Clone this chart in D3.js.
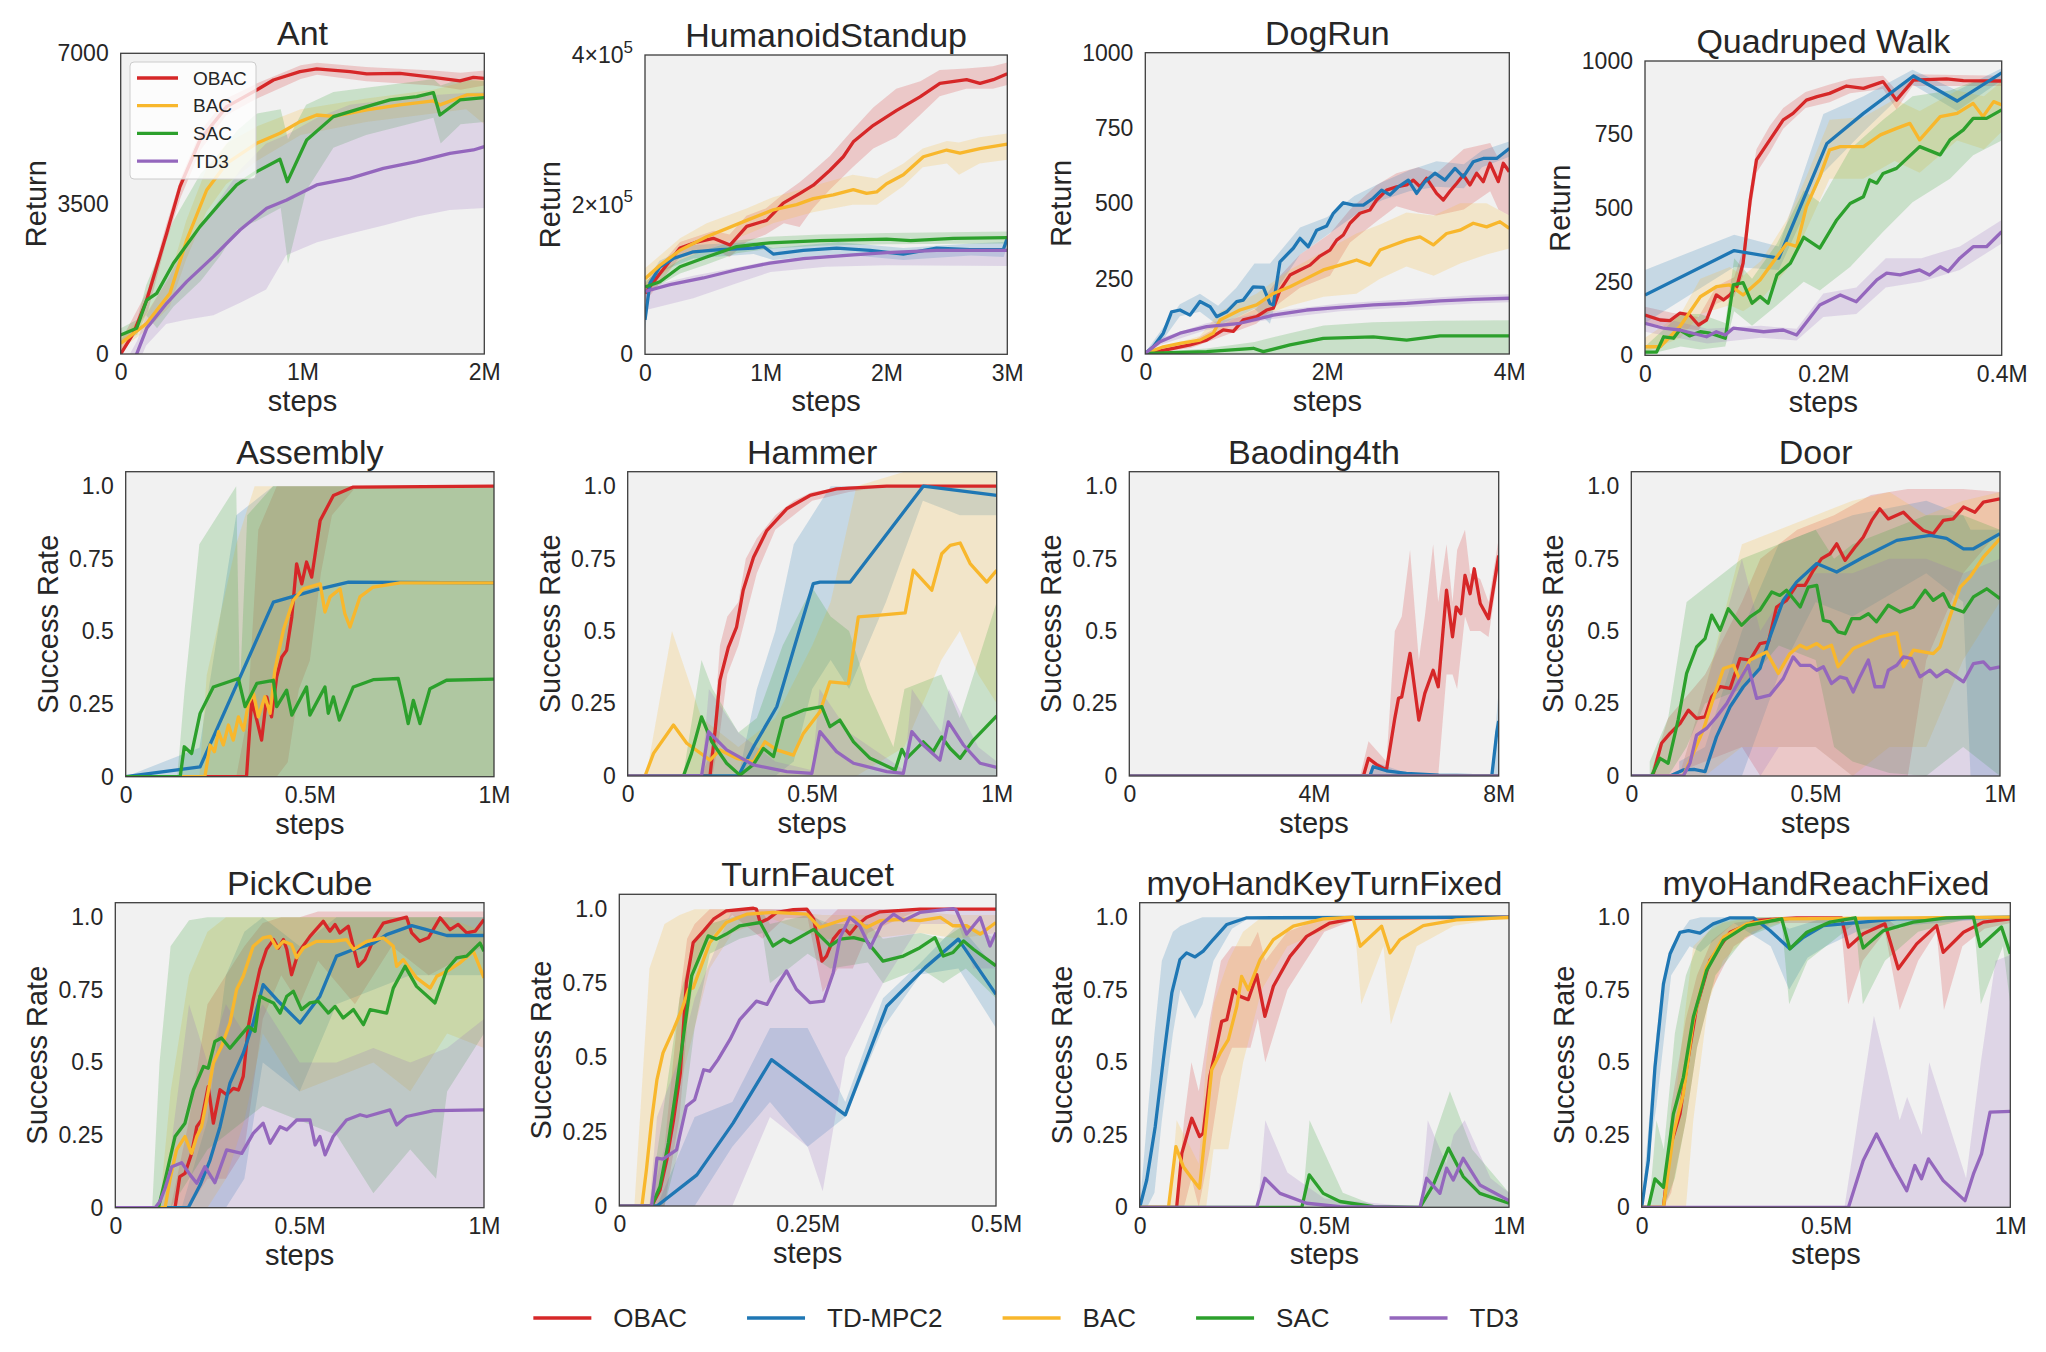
<!DOCTYPE html>
<html><head><meta charset="utf-8">
<script src="https://cdn.jsdelivr.net/npm/d3@7"></script>
<style>
body{margin:0;background:#fff}
svg{display:block}
text{font-family:"Liberation Sans",Arial,sans-serif;fill:#262626}
</style>
</head><body>
<svg id="chart" width="2046" height="1352"></svg>
<script>
const methods = ["OBAC","TD-MPC2","BAC","SAC","TD3"];
const colors = ["#d62728","#1f77b4","#f8b72c","#2ca02c","#9467bd"];

// ---------- tick arrays ----------
const returnTicksAnt = [0,3500,7000], returnLabelsAnt = ["0","3500","7000"];
const returnTicksHum = [0,200000,400000], returnLabelsHum = ["0","2×10^5","4×10^5"];
const returnTicks1000 = [0,250,500,750,1000], returnLabels1000 = ["0","250","500","750","1000"];
const successTicks = [0,0.25,0.5,0.75,1.0], successLabels = ["0","0.25","0.5","0.75","1.0"];
const xTicks2M = [0,1,2], xLabels2M = ["0","1M","2M"];
const xTicks3M = [0,1,2,3], xLabels3M = ["0","1M","2M","3M"];
const xTicks4M = [0,2,4], xLabels4M = ["0","2M","4M"];
const xTicks04M = [0,0.2,0.4], xLabels04M = ["0","0.2M","0.4M"];
const xTicks1M = [0,0.5,1], xLabels1M = ["0","0.5M","1M"];
const xTicks8M = [0,4,8], xLabels8M = ["0","4M","8M"];
const xTicks05M = [0,0.25,0.5], xLabels05M = ["0","0.25M","0.5M"];

// ---------- Ant (x in M steps) ----------
const ant_OBAC = [[0,0],[0.07,481],[0.143,1257],[0.198,2033],[0.253,2809],[0.326,3896],[0.436,4982],[0.583,5758],[0.748,6146],[0.84,6379],[0.986,6573],[1.078,6635],[1.261,6573],[1.353,6519],[1.536,6534],[1.72,6441],[1.866,6356],[1.94,6441],[2.0,6418]];
const ant_OBAC_band = [[0,0,300],[0.15,1000,1500],[0.25,2600,3000],[0.33,3650,4100],[0.44,4750,5200],[0.58,5550,5950],[0.75,5950,6300],[0.99,6400,6720],[1.08,6500,6780],[1.35,6350,6680],[1.72,6250,6600],[1.87,6150,6550],[2,6250,6600]];
const ant_BAC = [[0,248],[0.143,714],[0.271,1412],[0.363,2654],[0.473,3818],[0.583,4439],[0.748,4905],[0.876,5138],[0.986,5409],[1.078,5564],[1.17,5530],[1.353,5681],[1.536,5797],[1.72,5890],[1.756,5800],[1.903,6030],[2.0,6030]];
const ant_BAC_band = [[0,100,400],[0.14,550,950],[0.27,1100,1800],[0.36,2200,3100],[0.47,3300,4300],[0.58,3950,4900],[0.75,4500,5300],[0.99,5100,5700],[1.35,5400,5950],[1.72,5600,6150],[1.9,5700,6350],[2,5350,6400]];
const ant_SAC = [[0,442],[0.088,598],[0.143,1257],[0.198,1412],[0.29,2111],[0.436,2965],[0.546,3508],[0.638,3935],[0.748,4245],[0.876,4532],[0.917,4012],[1.023,4982],[1.17,5526],[1.353,5758],[1.481,5914],[1.628,5991],[1.72,6084],[1.756,5564],[1.866,5914],[2.0,5968]];
const ant_SAC_band = [[0,300,600],[0.09,450,800],[0.14,900,1600],[0.2,600,2200],[0.29,1100,3100],[0.44,1700,4200],[0.55,2300,4700],[0.64,2900,5200],[0.75,3100,5600],[0.88,3400,5700],[0.92,2100,5000],[1.02,3800,5800],[1.17,4800,6100],[1.35,5100,6200],[1.63,5400,6350],[1.72,5500,6400],[1.76,4900,6250],[1.87,5350,6400],[2,5400,6350]];
const ant_TD3 = [[0,-900],[0.088,0],[0.143,598],[0.253,1180],[0.363,1684],[0.51,2266],[0.656,2887],[0.803,3391],[0.913,3585],[1.078,3935],[1.261,4090],[1.445,4323],[1.628,4478],[1.811,4672],[1.94,4750],[2.0,4827]];
const ant_TD3_band = [[0.05,-600,0],[0.09,-300,300],[0.14,200,900],[0.25,700,1700],[0.36,800,2500],[0.51,900,3400],[0.66,1200,4300],[0.8,1500,4900],[0.91,2300,5100],[1.08,2600,5500],[1.26,2800,5800],[1.45,3000,5900],[1.63,3200,6000],[1.81,3350,6050],[2,3400,6100]];

// ---------- HumanoidStandup ----------
const hum_OBAC = [[0,81500],[0.124,108000],[0.29,142000],[0.428,150000],[0.566,155000],[0.704,146000],[0.842,171000],[1.007,179000],[1.145,202000],[1.283,215000],[1.394,226000],[1.532,246000],[1.642,264000],[1.725,284000],[1.891,306000],[2.084,326000],[2.277,344000],[2.442,362000],[2.663,367000],[2.774,362000],[2.884,367000],[3.0,375000]];
const hum_OBAC_band = [[0,70000,95000],[0.29,130000,150000],[0.57,140000,165000],[0.7,130000,160000],[0.84,150000,185000],[1.0,160000,195000],[1.15,175000,215000],[1.28,170000,230000],[1.39,195000,245000],[1.53,220000,265000],[1.72,250000,300000],[1.89,275000,330000],[2.08,290000,355000],[2.28,320000,365000],[2.44,345000,380000],[2.66,355000,382000],[2.88,355000,385000],[3.0,360000,390000]];
const hum_TDMPC2 = [[0,46000],[0.041,95000],[0.124,117000],[0.235,128000],[0.4,137000],[0.621,140000],[0.897,142000],[0.98,144000],[1.062,134000],[1.311,139000],[1.587,142000],[1.863,139000],[2.139,134000],[2.415,142000],[2.691,140000],[2.967,140000],[3.0,155000]];
const hum_TDMPC2_band = [[0,30000,60000],[0.04,85000,105000],[0.12,110000,125000],[0.4,128000,146000],[0.9,134000,150000],[1.06,126000,142000],[1.6,134000,150000],[2.14,126000,142000],[2.7,132000,148000],[2.97,130000,150000],[3.0,145000,160000]];
const hum_BAC = [[0,101000],[0.124,119000],[0.29,139000],[0.51,157000],[0.842,179000],[1.062,193000],[1.256,200000],[1.394,208000],[1.559,213000],[1.725,220000],[1.835,215000],[1.918,217000],[2.0,228000],[2.139,240000],[2.305,264000],[2.498,273000],[2.608,269000],[2.774,275000],[3.0,281000]];
const hum_BAC_band = [[0,90000,115000],[0.29,125000,155000],[0.51,140000,175000],[0.84,160000,195000],[1.06,175000,210000],[1.39,190000,225000],[1.72,200000,240000],[1.92,200000,235000],[2.14,225000,255000],[2.3,250000,275000],[2.5,255000,285000],[2.6,240000,283000],[2.77,255000,290000],[3.0,260000,295000]];
const hum_SAC = [[0,90000],[0.124,97000],[0.29,117000],[0.51,130000],[0.759,144000],[1.035,149000],[1.449,152000],[2.0,154000],[2.2,152000],[2.553,155000],[3.0,156000]];
const hum_SAC_band = [[0,82000,98000],[0.29,108000,126000],[0.51,120000,140000],[0.76,135000,152000],[1.03,141000,157000],[1.45,145000,160000],[2.0,147000,162000],[3.0,148000,164000]];
const hum_TD3 = [[0,84000],[0.207,93000],[0.483,102000],[0.759,113000],[1.035,122000],[1.311,128000],[1.725,133000],[2.0,136000],[2.415,139000],[3.0,139000]];
const hum_TD3_band = [[0,59000,90000],[0.4,75000,105000],[0.76,95000,116000],[1.04,110000,125000],[1.5,117000,132000],[2.0,119000,138000],[3.0,118000,142000]];

// ---------- DogRun ----------
const dog_OBAC = [[0,2],[0.125,8],[0.308,19],[0.491,30],[0.674,46],[0.857,80],[0.967,75],[1.077,113],[1.223,124],[1.333,146],[1.407,152],[1.48,212],[1.59,262],[1.7,279],[1.81,295],[1.919,325],[2.029,345],[2.103,378],[2.176,395],[2.249,434],[2.359,467],[2.469,478],[2.542,511],[2.652,544],[2.762,555],[2.872,561],[2.945,577],[3.019,555],[3.092,583],[3.201,533],[3.275,511],[3.348,540],[3.421,566],[3.495,594],[3.568,561],[3.641,600],[3.714,572],[3.788,633],[3.879,572],[3.934,633],[4.0,605]];
const dog_OBAC_band = [[0,0,5],[0.5,20,40],[0.86,60,100],[1.22,100,150],[1.48,170,260],[1.7,220,330],[2.03,260,400],[2.25,370,480],[2.54,440,560],[2.76,490,600],[3.0,470,620],[3.2,460,600],[3.5,480,680],[3.79,540,700],[3.88,480,650],[4.0,460,690]];
const dog_TDMPC2 = [[0,2],[0.088,24],[0.198,69],[0.289,140],[0.381,146],[0.491,129],[0.601,174],[0.711,157],[0.784,124],[0.894,140],[1.004,174],[1.077,179],[1.187,223],[1.297,221],[1.37,168],[1.407,163],[1.48,306],[1.626,351],[1.7,384],[1.791,356],[1.883,411],[1.993,425],[2.066,467],[2.176,502],[2.286,494],[2.396,494],[2.505,517],[2.597,544],[2.689,528],[2.78,555],[2.89,577],[2.982,533],[3.073,572],[3.183,600],[3.293,577],[3.403,616],[3.495,588],[3.604,638],[3.714,649],[3.861,649],[4.0,682]];
const dog_TDMPC2_band = [[0,0,5],[0.2,50,90],[0.38,125,165],[0.6,140,200],[0.8,95,160],[1.0,120,220],[1.2,150,300],[1.37,100,300],[1.48,230,340],[1.7,330,420],[2.0,395,455],[2.3,460,525],[2.6,510,570],[2.9,540,610],[3.2,555,640],[3.5,550,630],[3.7,620,675],[4.0,655,705]];
const dog_BAC = [[0,2],[0.198,24],[0.381,35],[0.601,46],[0.747,69],[0.821,113],[1.04,146],[1.223,163],[1.407,201],[1.59,223],[1.773,251],[1.956,279],[2.139,295],[2.322,312],[2.469,295],[2.579,345],[2.725,362],[2.872,378],[3.019,389],[3.165,362],[3.311,400],[3.458,411],[3.604,434],[3.751,422],[3.897,439],[4.0,417]];
const dog_BAC_band = [[0,0,5],[0.6,30,60],[0.82,80,140],[1.22,120,200],[1.59,160,280],[1.96,190,340],[2.32,200,400],[2.58,250,430],[2.87,290,470],[3.17,260,460],[3.46,300,500],[3.75,330,500],[4.0,350,460]];
const dog_SAC = [[0,2],[0.674,8],[1.187,19],[1.297,8],[1.59,30],[1.956,52],[2.505,57],[2.872,46],[3.238,60],[4.0,60]];
const dog_SAC_band = [[0,0,5],[0.67,0,18],[1.2,0,40],[1.6,0,70],[1.96,0,95],[2.5,0,105],[3.2,0,110],[4.0,0,112]];
const dog_TD3 = [[0,2],[0.161,41],[0.381,69],[0.674,91],[1.04,102],[1.407,129],[1.773,146],[2.139,155],[2.505,163],[2.872,168],[3.238,176],[3.604,181],[4.0,185]];
const dog_TD3_band = [[0,0,10],[0.16,30,52],[0.67,80,102],[1.4,116,142],[2.14,142,168],[2.87,155,182],[3.6,168,195],[4.0,172,198]];

// ---------- Quadruped Walk ----------
const quad_OBAC = [[0,137],[0.017,120],[0.028,118],[0.039,143],[0.05,137],[0.06,103],[0.069,120],[0.08,205],[0.088,188],[0.095,205],[0.103,233],[0.11,313],[0.118,528],[0.125,664],[0.14,732],[0.155,800],[0.166,822],[0.181,867],[0.193,879],[0.207,890],[0.226,915],[0.245,907],[0.267,930],[0.282,867],[0.301,935],[0.338,939],[0.357,933],[0.4,932]];
const quad_OBAC_band = [[0,110,165],[0.03,95,145],[0.06,85,130],[0.08,175,235],[0.1,200,265],[0.11,270,360],[0.118,480,570],[0.125,620,700],[0.14,690,780],[0.155,770,840],[0.18,840,895],[0.207,860,920],[0.23,890,940],[0.267,905,950],[0.282,835,900],[0.3,915,955],[0.4,915,950]];
const quad_TDMPC2 = [[0,205],[0.1,356],[0.15,330],[0.204,720],[0.245,822],[0.301,949],[0.35,864],[0.4,960]];
const quad_TDMPC2_band = [[0,110,290],[0.1,300,410],[0.15,290,370],[0.2,620,820],[0.245,760,880],[0.3,920,970],[0.35,830,900],[0.4,935,975]];
const quad_BAC = [[0,29],[0.017,29],[0.039,97],[0.062,199],[0.08,233],[0.095,239],[0.11,205],[0.129,256],[0.148,335],[0.159,380],[0.17,370],[0.181,505],[0.196,607],[0.207,698],[0.219,709],[0.245,709],[0.264,749],[0.282,771],[0.297,788],[0.308,732],[0.331,811],[0.35,822],[0.368,856],[0.379,811],[0.391,862],[0.4,851]];
const quad_BAC_band = [[0,10,60],[0.04,60,140],[0.062,140,260],[0.095,170,300],[0.11,150,270],[0.13,190,320],[0.159,290,460],[0.18,420,600],[0.207,600,800],[0.245,600,810],[0.28,660,870],[0.308,620,830],[0.35,730,900],[0.38,700,880],[0.4,760,930]];
const quad_SAC = [[0,11],[0.013,11],[0.021,63],[0.032,58],[0.039,86],[0.05,66],[0.062,80],[0.073,75],[0.09,58],[0.099,239],[0.11,247],[0.12,177],[0.129,200],[0.138,177],[0.148,273],[0.163,313],[0.178,401],[0.196,364],[0.215,460],[0.23,516],[0.245,539],[0.252,596],[0.26,585],[0.267,618],[0.282,635],[0.308,709],[0.331,681],[0.342,732],[0.357,766],[0.368,805],[0.383,805],[0.4,834]];
const quad_SAC_band = [[0,0,30],[0.04,30,140],[0.062,20,140],[0.09,30,110],[0.1,150,330],[0.12,100,260],[0.148,170,380],[0.178,250,560],[0.196,220,520],[0.23,300,700],[0.267,420,800],[0.3,520,880],[0.342,600,900],[0.368,680,930],[0.4,730,940]];
const quad_TD3 = [[0,109],[0.021,92],[0.039,86],[0.069,63],[0.08,80],[0.09,69],[0.099,92],[0.133,80],[0.155,86],[0.17,69],[0.196,171],[0.219,205],[0.237,182],[0.26,256],[0.271,279],[0.286,273],[0.308,290],[0.319,273],[0.331,301],[0.34,285],[0.353,330],[0.368,369],[0.383,369],[0.4,420]];
const quad_TD3_band = [[0,80,140],[0.07,40,90],[0.13,60,100],[0.17,50,90],[0.2,130,210],[0.237,140,230],[0.27,230,330],[0.31,250,330],[0.353,290,370],[0.4,380,460]];

// ---------- Assembly ----------
const asm_OBAC = [[0,0],[0.328,0],[0.342,0.263],[0.356,0.195],[0.369,0.126],[0.383,0.275],[0.396,0.206],[0.41,0.344],[0.424,0.412],[0.437,0.435],[0.451,0.55],[0.464,0.733],[0.478,0.664],[0.491,0.739],[0.505,0.687],[0.528,0.882],[0.564,0.968],[0.618,0.997],[1,1]];
const asm_OBAC_band = [[0,0,0],[0.3,0,0],[0.33,0,0.2],[0.36,0,0.85],[0.41,0,1.0],[0.44,0.05,1.0],[0.47,0.3,1.0],[0.5,0.4,1.0],[0.53,0.7,1.0],[0.56,0.9,1.0],[0.62,0.99,1.0],[1,1,1]];
const asm_TDMPC2 = [[0,0],[0.202,0.034],[0.401,0.601],[0.519,0.644],[0.605,0.67],[1,0.667]];
const asm_TDMPC2_band = [[0,0,0],[0.1,0,0.05],[0.2,0,0.1],[0.3,0,0.9],[0.4,0,1.0],[0.55,0,1.0],[1.0,0,1.0]];
const asm_BAC = [[0,0],[0.215,0],[0.229,0.109],[0.241,0.086],[0.252,0.155],[0.265,0.109],[0.279,0.178],[0.292,0.126],[0.306,0.206],[0.32,0.16],[0.333,0.252],[0.347,0.286],[0.36,0.206],[0.378,0.275],[0.392,0.218],[0.405,0.367],[0.428,0.504],[0.455,0.607],[0.482,0.647],[0.528,0.664],[0.541,0.567],[0.555,0.619],[0.582,0.647],[0.595,0.561],[0.609,0.515],[0.636,0.619],[0.672,0.653],[0.745,0.667],[1,0.667]];
const asm_BAC_band = [[0.2,0,0],[0.22,0,0.35],[0.3,0,0.8],[0.35,0,1.0],[0.5,0,1.0],[1.0,0,1.0]];
const asm_SAC = [[0,0],[0.148,0],[0.159,0.103],[0.179,0.08],[0.202,0.218],[0.238,0.309],[0.306,0.338],[0.324,0.241],[0.356,0.321],[0.401,0.332],[0.41,0.241],[0.437,0.298],[0.451,0.212],[0.491,0.309],[0.5,0.212],[0.541,0.309],[0.55,0.218],[0.564,0.275],[0.58,0.195],[0.618,0.309],[0.672,0.334],[0.74,0.338],[0.754,0.263],[0.767,0.183],[0.781,0.263],[0.799,0.183],[0.826,0.303],[0.871,0.332],[1,0.336]];
const asm_SAC_band = [[0.14,0,0],[0.16,0,0.3],[0.2,0,0.8],[0.3,0,1.0],[0.31,0,0.3],[0.33,0,0.9],[0.4,0,1.0],[1,0,1]];

// ---------- Hammer ----------
const ham_OBAC = [[0,0],[0.223,0],[0.237,0.158],[0.25,0.331],[0.273,0.445],[0.295,0.514],[0.313,0.641],[0.341,0.755],[0.377,0.847],[0.431,0.922],[0.494,0.968],[0.566,0.991],[0.702,1.0],[1,1]];
const ham_OBAC_band = [[0.2,0,0],[0.23,0,0.1],[0.25,0.15,0.45],[0.27,0.35,0.55],[0.3,0.45,0.6],[0.32,0.55,0.75],[0.35,0.7,0.82],[0.4,0.85,0.9],[0.45,0.9,0.95],[0.5,0.95,0.98],[0.6,0.98,1.0],[0.7,1,1],[1,1,1]];
const ham_TDMPC2 = [[0,0],[0.3,0],[0.341,0.101],[0.404,0.239],[0.449,0.434],[0.503,0.664],[0.521,0.669],[0.603,0.669],[0.801,1.0],[1,0.968]];
const ham_TDMPC2_band = [[0.3,0,0],[0.35,0,0.3],[0.4,0,0.5],[0.45,0.05,0.8],[0.5,0.3,0.9],[0.55,0.4,1.0],[0.6,0.3,1.0],[0.7,0.6,1.0],[0.8,0.95,1.0],[0.9,0.9,1.0],[1.0,0.9,1.0]];
const ham_BAC = [[0,0],[0.047,0],[0.07,0.078],[0.124,0.176],[0.16,0.113],[0.223,0.055],[0.25,0.09],[0.295,0.061],[0.341,0.049],[0.372,0.118],[0.404,0.09],[0.449,0.072],[0.476,0.147],[0.521,0.222],[0.548,0.325],[0.598,0.319],[0.625,0.549],[0.684,0.555],[0.752,0.563],[0.774,0.71],[0.824,0.641],[0.851,0.767],[0.874,0.796],[0.901,0.804],[0.928,0.733],[0.973,0.669],[1,0.71]];
const ham_BAC_band = [[0.05,0,0],[0.12,0,0.5],[0.2,0,0.2],[0.3,0,0.1],[0.4,0,0.2],[0.5,0,0.45],[0.55,0,0.6],[0.62,0,1.0],[0.75,0.1,1.05],[0.85,0.4,1.05],[0.9,0.5,1.05],[0.95,0.35,1.05],[1.0,0.25,1.05]];
const ham_SAC = [[0,0],[0.151,0],[0.173,0.078],[0.2,0.204],[0.228,0.118],[0.268,0.044],[0.304,0.003],[0.341,0.04],[0.368,0.095],[0.395,0.067],[0.422,0.199],[0.476,0.227],[0.526,0.239],[0.548,0.17],[0.575,0.193],[0.612,0.118],[0.657,0.061],[0.725,0.021],[0.743,0.092],[0.756,0.061],[0.801,0.118],[0.828,0.084],[0.851,0.135],[0.874,0.095],[0.901,0.061],[0.937,0.124],[1,0.207]];
const ham_SAC_band = [[0.15,0,0],[0.2,0,0.4],[0.23,0,0.3],[0.3,0,0.15],[0.35,0,0.2],[0.42,0,0.45],[0.5,0,0.65],[0.55,0,0.55],[0.6,0,0.5],[0.65,0,0.3],[0.72,0,0.1],[0.75,0,0.3],[0.85,0,0.35],[0.9,0,0.2],[1.0,0,0.6]];
const ham_TD3 = [[0,0],[0.2,0],[0.219,0.153],[0.268,0.09],[0.341,0.038],[0.431,0.015],[0.499,0.009],[0.521,0.153],[0.566,0.084],[0.612,0.044],[0.702,0.015],[0.747,0.009],[0.77,0.153],[0.801,0.107],[0.846,0.055],[0.869,0.187],[0.91,0.107],[0.955,0.044],[1,0.03]];
const ham_TD3_band = [[0.2,0,0],[0.22,0,0.3],[0.3,0,0.15],[0.4,0,0.05],[0.5,0,0.02],[0.52,0,0.3],[0.6,0,0.15],[0.75,0,0.02],[0.77,0,0.3],[0.85,0,0.15],[0.87,0,0.3],[0.95,0,0.1],[1.0,0,0.05]];

// ---------- Baoding4th ----------
const bao_OBAC = [[0,0],[5.07,0],[5.18,0.061],[5.35,0.04],[5.57,0.021],[5.75,0.199],[5.83,0.268],[5.9,0.273],[6.08,0.423],[6.27,0.193],[6.4,0.285],[6.58,0.365],[6.69,0.308],[6.87,0.641],[7.0,0.48],[7.08,0.583],[7.18,0.56],[7.27,0.692],[7.38,0.629],[7.47,0.715],[7.6,0.595],[7.78,0.543],[8,0.761]];
const bao_OBAC_band = [[5.0,0,0],[5.18,0,0.12],[5.57,0,0.05],[5.75,0,0.5],[5.9,0,0.55],[6.08,0,0.78],[6.27,0,0.4],[6.4,0,0.55],[6.58,0,0.8],[6.69,0,0.6],[6.87,0.35,0.8],[7.0,0.35,0.6],[7.1,0.3,0.78],[7.27,0.55,0.85],[7.38,0.5,0.7],[7.6,0.5,0.68],[7.78,0.48,0.6],[8.0,0.72,0.82]];
const bao_TDMPC2 = [[0,0],[5.21,0],[5.28,0.032],[5.57,0.018],[6.0,0.009],[6.7,0.003],[7.85,0],[7.96,0.153],[8,0.19]];
const bao_TDMPC2_band = [[5.2,0,0],[5.28,0,0.05],[6,0,0.01],[7.85,0,0],[8,0,0.3]];
const bao_BAC = [[0,0],[8,0]];
const bao_SAC = [[0,0],[8,0]];
const bao_TD3 = [[0,0],[8,0]];

// ---------- Door ----------
const door_OBAC = [[0,0],[0.058,0],[0.082,0.113],[0.105,0.147],[0.132,0.181],[0.155,0.227],[0.177,0.199],[0.2,0.204],[0.218,0.273],[0.241,0.308],[0.268,0.302],[0.295,0.405],[0.322,0.4],[0.349,0.457],[0.372,0.463],[0.394,0.583],[0.421,0.606],[0.448,0.658],[0.471,0.658],[0.494,0.71],[0.516,0.75],[0.539,0.767],[0.557,0.801],[0.58,0.744],[0.607,0.79],[0.629,0.824],[0.652,0.882],[0.674,0.922],[0.697,0.887],[0.738,0.91],[0.765,0.876],[0.792,0.847],[0.819,0.836],[0.846,0.882],[0.873,0.887],[0.901,0.928],[0.932,0.91],[0.955,0.945],[1,0.956]];
const door_OBAC_band = [[0.05,0,0],[0.1,0,0.2],[0.2,0.05,0.35],[0.3,0.1,0.6],[0.35,0,0.75],[0.45,0,0.85],[0.55,0,0.9],[0.65,0,0.97],[0.75,0,0.99],[0.8,0.4,0.99],[0.9,0.7,0.99],[1.0,0.85,0.98]];
const door_TDMPC2 = [[0,0],[0.105,0],[0.141,0.021],[0.17,0.023],[0.2,0.015],[0.231,0.135],[0.268,0.239],[0.304,0.308],[0.349,0.371],[0.376,0.48],[0.412,0.606],[0.448,0.669],[0.503,0.733],[0.557,0.704],[0.629,0.755],[0.72,0.813],[0.81,0.83],[0.855,0.82],[0.901,0.784],[0.928,0.784],[1,0.836]];
const door_TDMPC2_band = [[0.13,0,0.05],[0.2,0,0.1],[0.3,0,0.5],[0.4,0.35,0.8],[0.5,0.6,0.85],[0.6,0.55,0.9],[0.8,0.7,0.95],[0.9,0.6,0.9],[0.92,0,0.85],[1.0,0,0.85]];
const door_BAC = [[0,0],[0.141,0],[0.168,0.078],[0.195,0.158],[0.218,0.25],[0.25,0.371],[0.277,0.382],[0.295,0.331],[0.322,0.4],[0.367,0.428],[0.399,0.354],[0.43,0.422],[0.458,0.451],[0.476,0.44],[0.503,0.457],[0.521,0.44],[0.543,0.451],[0.561,0.377],[0.602,0.44],[0.674,0.48],[0.72,0.494],[0.738,0.377],[0.765,0.434],[0.819,0.422],[0.837,0.445],[0.864,0.549],[0.892,0.652],[0.919,0.687],[0.955,0.755],[1,0.819]];
const door_BAC_band = [[0.13,0,0],[0.2,0,0.3],[0.3,0.1,0.8],[0.4,0.1,0.85],[0.5,0.1,0.9],[0.6,0,0.95],[0.7,0.1,0.98],[0.8,0.1,0.9],[0.9,0.4,0.95],[1.0,0.6,0.98]];
const door_SAC = [[0,0],[0.055,0],[0.078,0.061],[0.1,0.044],[0.127,0.193],[0.15,0.354],[0.177,0.445],[0.2,0.474],[0.218,0.555],[0.241,0.503],[0.263,0.577],[0.299,0.52],[0.322,0.549],[0.349,0.572],[0.381,0.635],[0.403,0.623],[0.421,0.641],[0.458,0.583],[0.48,0.652],[0.503,0.658],[0.521,0.537],[0.539,0.532],[0.561,0.497],[0.58,0.491],[0.598,0.543],[0.62,0.543],[0.643,0.56],[0.665,0.532],[0.697,0.589],[0.729,0.566],[0.765,0.583],[0.797,0.641],[0.819,0.606],[0.846,0.629],[0.864,0.583],[0.901,0.566],[0.928,0.618],[0.964,0.646],[1,0.612]];
const door_SAC_band = [[0.05,0,0.05],[0.1,0,0.2],[0.15,0.1,0.6],[0.2,0.25,0.65],[0.3,0.3,0.75],[0.4,0.45,0.8],[0.5,0.4,0.85],[0.55,0.1,0.75],[0.6,0.05,0.8],[0.7,0.01,0.85],[0.8,0,0.9],[0.9,0.1,0.9],[1.0,0,0.85]];
const door_TD3 = [[0,0],[0.141,0],[0.159,0.044],[0.177,0.141],[0.204,0.164],[0.231,0.204],[0.259,0.25],[0.281,0.302],[0.317,0.382],[0.34,0.268],[0.376,0.279],[0.412,0.336],[0.439,0.411],[0.458,0.382],[0.485,0.382],[0.503,0.365],[0.521,0.377],[0.543,0.319],[0.566,0.342],[0.584,0.336],[0.602,0.29],[0.62,0.342],[0.643,0.4],[0.661,0.308],[0.684,0.308],[0.697,0.365],[0.72,0.382],[0.738,0.411],[0.76,0.405],[0.783,0.342],[0.81,0.365],[0.828,0.342],[0.855,0.365],[0.901,0.325],[0.928,0.388],[0.955,0.394],[0.973,0.37],[1,0.377]];
const door_TD3_band = [[0.13,0,0],[0.2,0,0.3],[0.3,0,0.75],[0.35,0,0.5],[0.4,0.1,0.6],[0.5,0.1,0.7],[0.6,0,0.7],[0.7,0,0.75],[0.8,0,0.75],[0.9,0,0.7],[1.0,0,0.75]];

// ---------- PickCube ----------
const pick_OBAC = [[0,0],[0.162,0],[0.175,0.107],[0.189,0.118],[0.207,0.187],[0.221,0.279],[0.234,0.302],[0.252,0.417],[0.266,0.291],[0.284,0.406],[0.302,0.389],[0.32,0.411],[0.334,0.405],[0.347,0.452],[0.361,0.624],[0.374,0.716],[0.392,0.82],[0.41,0.889],[0.429,0.923],[0.442,0.894],[0.456,0.923],[0.465,0.89],[0.478,0.802],[0.496,0.877],[0.528,0.934],[0.564,0.986],[0.582,0.952],[0.596,0.975],[0.609,0.946],[0.632,0.969],[0.659,0.831],[0.677,0.854],[0.704,0.934],[0.727,0.98],[0.79,1.0],[0.804,0.946],[0.826,0.917],[0.849,0.929],[0.881,0.998],[0.908,0.957],[0.93,0.975],[0.953,0.946],[0.976,0.952],[1,0.992]];
const pick_OBAC_band = [[0.15,0,0],[0.2,0,0.3],[0.25,0.1,0.7],[0.3,0.1,0.8],[0.35,0.2,0.9],[0.4,0.65,0.98],[0.45,0.8,1.0],[0.5,0.7,1.0],[0.55,0.85,1.02],[0.65,0.7,1.02],[0.75,0.9,1.02],[0.85,0.8,1.02],[1.0,0.9,1.02]];
const pick_TDMPC2 = [[0,0],[0.198,0],[0.23,0.078],[0.257,0.164],[0.284,0.279],[0.311,0.429],[0.347,0.532],[0.374,0.636],[0.401,0.768],[0.438,0.716],[0.501,0.636],[0.555,0.728],[0.6,0.866],[0.646,0.889],[0.7,0.911],[0.736,0.94],[0.804,0.971],[0.844,0.957],[0.899,0.937],[1,0.937]];
const pick_TDMPC2_band = [[0.18,0,0],[0.25,0,0.3],[0.3,0,0.8],[0.35,0.1,0.95],[0.4,0.5,1.0],[0.5,0.4,0.9],[0.6,0.7,1.0],[0.7,0.75,1.0],[0.8,0.8,1.0],[1.0,0.8,1.0]];
const pick_BAC = [[0,0],[0.135,0],[0.148,0.095],[0.166,0.199],[0.189,0.245],[0.207,0.187],[0.221,0.245],[0.234,0.279],[0.248,0.371],[0.266,0.498],[0.288,0.555],[0.311,0.636],[0.329,0.751],[0.347,0.797],[0.374,0.9],[0.401,0.929],[0.42,0.934],[0.438,0.894],[0.456,0.917],[0.478,0.906],[0.492,0.86],[0.51,0.894],[0.546,0.917],[0.591,0.917],[0.627,0.923],[0.646,0.889],[0.682,0.917],[0.727,0.929],[0.754,0.9],[0.763,0.831],[0.781,0.854],[0.817,0.791],[0.854,0.756],[0.872,0.797],[0.899,0.814],[0.935,0.843],[0.971,0.883],[1,0.791]];
const pick_BAC_band = [[0.12,0,0],[0.15,0,0.4],[0.2,0,0.8],[0.25,0,0.95],[0.3,0.1,1.0],[0.35,0.3,1.0],[0.4,0.6,1.0],[0.5,0.4,1.0],[0.7,0.5,1.0],[0.8,0.4,1.0],[0.9,0.6,1.0],[1.0,0.55,0.95]];
const pick_SAC = [[0,0],[0.117,0],[0.135,0.095],[0.162,0.245],[0.189,0.291],[0.212,0.406],[0.239,0.486],[0.252,0.48],[0.27,0.572],[0.288,0.584],[0.311,0.549],[0.338,0.59],[0.361,0.624],[0.379,0.607],[0.392,0.728],[0.41,0.716],[0.429,0.705],[0.447,0.67],[0.465,0.728],[0.483,0.745],[0.505,0.682],[0.528,0.705],[0.551,0.71],[0.578,0.67],[0.596,0.693],[0.618,0.653],[0.646,0.682],[0.673,0.63],[0.691,0.682],[0.736,0.67],[0.754,0.756],[0.786,0.831],[0.817,0.762],[0.867,0.705],[0.899,0.82],[0.926,0.86],[0.953,0.866],[0.989,0.911],[1,0.883]];
const pick_SAC_band = [[0.1,0,0],[0.12,0,0.5],[0.15,0,0.9],[0.2,0.1,0.99],[0.25,0.2,1.0],[0.35,0.3,1.0],[0.4,0.35,1.0],[0.5,0.3,1.0],[0.6,0.25,1.0],[0.7,0.05,1.0],[0.8,0.2,1.0],[0.87,0.1,1.0],[0.9,0.4,1.0],[1.0,0.6,1.0]];
const pick_TD3 = [[0,0],[0.108,0],[0.121,0.021],[0.135,0.067],[0.153,0.141],[0.18,0.155],[0.203,0.113],[0.221,0.084],[0.243,0.141],[0.27,0.086],[0.302,0.199],[0.343,0.187],[0.374,0.256],[0.401,0.291],[0.42,0.222],[0.447,0.279],[0.465,0.268],[0.492,0.302],[0.528,0.302],[0.542,0.216],[0.555,0.245],[0.569,0.182],[0.591,0.245],[0.627,0.302],[0.664,0.32],[0.682,0.314],[0.745,0.337],[0.763,0.285],[0.79,0.314],[0.863,0.334],[1,0.337]];
const pick_TD3_band = [[0.12,0,0],[0.15,0,0.2],[0.2,0,0.7],[0.25,0,0.5],[0.3,0,0.7],[0.35,0,0.6],[0.4,0,0.7],[0.5,0,0.5],[0.6,0,0.5],[0.7,0,0.55],[0.8,0,0.5],[0.9,0,0.55],[1.0,0,0.65]];

// ---------- TurnFaucet ----------
const tf_OBAC = [[0,0],[0.043,0],[0.054,0.054],[0.063,0.155],[0.072,0.291],[0.081,0.448],[0.089,0.752],[0.098,0.887],[0.112,0.927],[0.125,0.966],[0.142,0.994],[0.178,1.003],[0.182,1.0],[0.187,0.955],[0.198,0.968],[0.209,0.989],[0.231,0.998],[0.249,1.0],[0.258,0.966],[0.269,0.825],[0.275,0.842],[0.284,0.899],[0.293,0.927],[0.3,0.932],[0.306,0.916],[0.315,0.944],[0.328,0.972],[0.346,0.991],[0.399,1.0],[0.5,1.0]];
const tf_OBAC_band = [[0.04,0,0],[0.06,0,0.2],[0.08,0.3,0.7],[0.09,0.6,0.9],[0.1,0.8,0.95],[0.12,0.9,1.0],[0.15,0.98,1.0],[0.19,0.9,1.0],[0.22,0.97,1.0],[0.25,0.97,1.0],[0.27,0.72,0.95],[0.29,0.8,1.0],[0.31,0.8,1.0],[0.33,0.92,1.0],[0.4,1,1],[0.5,1,1]];
const tf_TDMPC2 = [[0,0],[0.05,0],[0.103,0.105],[0.151,0.279],[0.202,0.493],[0.3,0.307],[0.355,0.673],[0.406,0.803],[0.45,0.899],[0.5,0.713]];
const tf_TDMPC2_band = [[0.05,0,0],[0.1,0,0.3],[0.15,0.2,0.35],[0.2,0.35,0.6],[0.25,0.2,0.6],[0.3,0.3,0.35],[0.35,0.6,0.7],[0.4,0.78,0.82],[0.45,0.8,0.95],[0.5,0.6,0.8]];
const tf_BAC = [[0,0],[0.03,0],[0.036,0.122],[0.043,0.291],[0.05,0.426],[0.058,0.516],[0.072,0.595],[0.083,0.662],[0.092,0.73],[0.098,0.735],[0.107,0.797],[0.12,0.887],[0.142,0.955],[0.169,0.983],[0.204,0.989],[0.249,0.983],[0.266,0.938],[0.293,0.961],[0.311,0.972],[0.328,0.938],[0.346,0.961],[0.377,0.966],[0.399,0.961],[0.426,0.972],[0.443,0.944],[0.461,0.944],[0.479,0.916],[0.5,0.955]];
const tf_BAC_band = [[0.02,0,0],[0.03,0,0.4],[0.04,0,0.8],[0.06,0.2,0.95],[0.08,0.4,0.98],[0.1,0.6,1.0],[0.12,0.8,1.0],[0.15,0.92,1.0],[0.2,0.97,1.0],[0.27,0.9,0.98],[0.33,0.9,0.98],[0.4,0.92,0.99],[0.45,0.9,0.98],[0.5,0.92,0.98]];
const tf_SAC = [[0,0],[0.043,0],[0.054,0.065],[0.065,0.212],[0.076,0.403],[0.087,0.606],[0.096,0.775],[0.107,0.842],[0.118,0.91],[0.129,0.899],[0.142,0.916],[0.16,0.944],[0.187,0.955],[0.204,0.876],[0.218,0.899],[0.227,0.887],[0.258,0.932],[0.28,0.876],[0.293,0.899],[0.311,0.904],[0.328,0.893],[0.35,0.825],[0.377,0.842],[0.399,0.87],[0.419,0.904],[0.43,0.842],[0.443,0.854],[0.457,0.893],[0.47,0.865],[0.5,0.809]];
const tf_SAC_band = [[0.04,0,0],[0.06,0,0.35],[0.08,0.2,0.7],[0.1,0.6,0.9],[0.12,0.85,0.95],[0.16,0.9,0.98],[0.19,0.92,0.99],[0.2,0.75,0.95],[0.25,0.85,0.98],[0.28,0.8,0.95],[0.33,0.82,0.95],[0.35,0.75,0.9],[0.4,0.8,0.92],[0.43,0.75,0.9],[0.46,0.8,0.95],[0.5,0.7,0.9]];
const tf_TD3 = [[0,0],[0.043,0],[0.05,0.161],[0.058,0.158],[0.076,0.189],[0.089,0.336],[0.1,0.358],[0.112,0.459],[0.12,0.454],[0.131,0.493],[0.147,0.561],[0.16,0.628],[0.182,0.69],[0.196,0.679],[0.209,0.741],[0.222,0.792],[0.235,0.73],[0.253,0.685],[0.271,0.69],[0.284,0.786],[0.293,0.904],[0.306,0.972],[0.319,0.944],[0.333,0.87],[0.348,0.949],[0.364,0.983],[0.377,0.961],[0.399,0.989],[0.443,1.002],[0.447,0.998],[0.461,0.916],[0.479,0.972],[0.492,0.876],[0.5,0.921]];
const tf_TD3_band = [[0.04,0,0],[0.05,0,0.3],[0.08,0,0.5],[0.1,0,0.7],[0.15,0,1.0],[0.2,0.3,1.0],[0.25,0.2,1.0],[0.27,0.05,1.0],[0.3,0.5,1.0],[0.35,0.75,1.0],[0.4,0.95,1.0],[0.45,0.95,1.0],[0.47,0.8,1.0],[0.5,0.8,1.0]];

// ---------- myoHandKeyTurnFixed ----------
const key_OBAC = [[0,0],[0.1,0],[0.114,0.186],[0.141,0.307],[0.162,0.244],[0.172,0.255],[0.19,0.451],[0.208,0.555],[0.222,0.641],[0.236,0.647],[0.254,0.75],[0.272,0.727],[0.294,0.716],[0.317,0.802],[0.339,0.658],[0.362,0.762],[0.407,0.865],[0.452,0.934],[0.515,0.98],[0.588,0.997],[1,1]];
const key_OBAC_band = [[0.1,0,0],[0.12,0,0.3],[0.14,0.1,0.5],[0.16,0,0.4],[0.19,0.2,0.65],[0.22,0.45,0.85],[0.25,0.55,0.9],[0.3,0.55,0.9],[0.32,0.65,0.95],[0.34,0.5,0.85],[0.4,0.75,0.95],[0.5,0.95,1],[0.6,1,1],[1,1,1]];
const key_TDMPC2 = [[0,0],[0.019,0.094],[0.042,0.278],[0.064,0.509],[0.087,0.739],[0.109,0.854],[0.127,0.877],[0.15,0.863],[0.172,0.883],[0.199,0.923],[0.236,0.975],[0.29,0.998],[1,1]];
const key_TDMPC2_band = [[0,0,0],[0.02,0,0.3],[0.04,0.05,0.6],[0.06,0.3,0.85],[0.09,0.6,0.95],[0.11,0.75,0.97],[0.15,0.65,0.99],[0.17,0.7,1.0],[0.2,0.85,1.0],[0.25,0.96,1.0],[0.3,1,1],[1,1,1]];
const key_BAC = [[0,0],[0.078,0],[0.098,0.209],[0.118,0.14],[0.141,0.1],[0.162,0.066],[0.181,0.301],[0.195,0.474],[0.218,0.532],[0.24,0.578],[0.263,0.693],[0.276,0.796],[0.294,0.75],[0.326,0.854],[0.362,0.923],[0.416,0.969],[0.497,0.994],[0.577,1.0],[0.597,0.9],[0.655,0.969],[0.678,0.877],[0.705,0.923],[0.768,0.971],[0.858,0.991],[1,0.999]];
const key_BAC_band = [[0.08,0,0],[0.1,0,0.3],[0.16,0,0.15],[0.18,0,0.5],[0.2,0.2,0.7],[0.24,0.2,0.85],[0.28,0.5,0.95],[0.33,0.75,1.0],[0.4,0.9,1.0],[0.58,1,1],[0.6,0.7,1.0],[0.66,0.9,1.0],[0.68,0.63,1.0],[0.75,0.9,1.0],[0.85,0.97,1.0],[1,1,1]];
const key_SAC = [[0,0],[0.439,0],[0.459,0.112],[0.497,0.048],[0.542,0.02],[0.633,0.002],[0.759,0],[0.795,0.077],[0.836,0.204],[0.876,0.106],[0.921,0.048],[1,0.014]];
const key_SAC_band = [[0.44,0,0],[0.46,0,0.3],[0.55,0,0.05],[0.65,0,0],[0.76,0,0],[0.8,0,0.25],[0.84,0,0.4],[0.9,0,0.2],[1.0,0,0.05]];
const key_TD3 = [[0,0],[0.317,0],[0.339,0.1],[0.38,0.048],[0.452,0.014],[0.542,0.002],[0.759,0],[0.777,0.1],[0.813,0.048],[0.831,0.135],[0.849,0.094],[0.876,0.169],[0.921,0.077],[1,0.023]];
const key_TD3_band = [[0.32,0,0],[0.34,0,0.3],[0.4,0,0.12],[0.5,0,0.03],[0.76,0,0],[0.78,0,0.3],[0.83,0,0.15],[0.85,0,0.25],[0.88,0,0.3],[0.95,0,0.1],[1.0,0,0.05]];

// ---------- myoHandReachFixed ----------
const reach_OBAC = [[0,0],[0.059,0],[0.077,0.207],[0.104,0.322],[0.122,0.483],[0.149,0.69],[0.185,0.851],[0.24,0.948],[0.312,0.989],[0.42,0.998],[0.542,0.998],[0.561,0.897],[0.601,0.943],[0.66,0.977],[0.696,0.822],[0.746,0.908],[0.8,0.971],[0.818,0.879],[0.873,0.948],[0.927,0.983],[1,0.994]];
const reach_OBAC_band = [[0.06,0,0],[0.08,0.05,0.35],[0.12,0.3,0.65],[0.15,0.55,0.8],[0.19,0.75,0.92],[0.25,0.9,0.98],[0.35,0.98,1.0],[0.54,0.98,1.0],[0.56,0.7,1.0],[0.6,0.85,1.0],[0.66,0.95,1.0],[0.7,0.68,0.96],[0.75,0.85,1.0],[0.8,0.95,1.0],[0.82,0.68,1.0],[0.87,0.9,1.0],[0.93,0.96,1.0],[1.0,0.98,1.0]];
const reach_TDMPC2 = [[0,0],[0.018,0.161],[0.036,0.483],[0.059,0.77],[0.077,0.874],[0.104,0.948],[0.127,0.954],[0.158,0.945],[0.194,0.977],[0.24,0.998],[0.303,0.998],[0.348,0.954],[0.402,0.891],[0.439,0.931],[0.493,0.971],[0.547,0.977],[0.601,0.983],[0.692,0.994],[1,1]];
const reach_TDMPC2_band = [[0,0,0],[0.04,0.35,0.6],[0.08,0.8,0.9],[0.13,0.9,0.99],[0.16,0.88,1.0],[0.25,0.98,1.0],[0.35,0.9,1.0],[0.4,0.75,0.96],[0.45,0.86,0.98],[0.5,0.9,1.0],[0.6,0.96,1.0],[1,1,1]];
const reach_BAC = [[0,0],[0.059,0],[0.086,0.253],[0.113,0.391],[0.14,0.644],[0.176,0.828],[0.222,0.931],[0.285,0.977],[0.375,0.994],[1,1]];
const reach_BAC_band = [[0.06,0,0],[0.12,0,0.7],[0.14,0.3,0.9],[0.18,0.7,0.95],[0.22,0.85,0.98],[0.3,0.95,1.0],[0.4,0.99,1.0],[1,1,1]];
const reach_SAC = [[0,0],[0.018,0],[0.036,0.098],[0.059,0.069],[0.086,0.322],[0.113,0.448],[0.14,0.655],[0.176,0.816],[0.222,0.92],[0.285,0.971],[0.38,0.994],[0.402,0.891],[0.448,0.948],[0.511,0.983],[0.579,0.998],[0.601,0.894],[0.656,0.954],[0.737,0.983],[0.827,0.998],[0.9,1.0],[0.918,0.899],[0.976,0.966],[1,0.874]];
const reach_SAC_band = [[0.02,0,0],[0.04,0,0.3],[0.06,0,0.2],[0.09,0.1,0.6],[0.12,0.3,0.8],[0.15,0.55,0.9],[0.2,0.8,0.98],[0.28,0.93,1.0],[0.38,0.98,1.0],[0.4,0.7,1.0],[0.45,0.85,1.0],[0.58,0.98,1.0],[0.6,0.7,1.0],[0.66,0.85,1.0],[0.75,0.95,1.0],[0.9,1,1],[0.92,0.7,1.0],[0.98,0.9,1.0],[1.0,0.7,1.0]];
const reach_TD3 = [[0,0],[0.561,0],[0.601,0.161],[0.637,0.253],[0.683,0.138],[0.719,0.057],[0.741,0.144],[0.759,0.098],[0.778,0.167],[0.818,0.092],[0.877,0.023],[0.9,0.115],[0.922,0.184],[0.945,0.328],[1,0.331]];
const reach_TD3_band = [[0.55,0,0],[0.63,0,0.66],[0.7,0,0.3],[0.72,0,0.38],[0.76,0,0.25],[0.78,0,0.5],[0.88,0,0.1],[0.92,0,0.5],[0.96,0,0.85],[1.0,0,0.87]];

// ---------- panel configuration ----------
const panels = [
  {title:"Ant", ylabel:"Return", xmax:2, ymax:7000, xt:xTicks2M, xl:xLabels2M, yt:returnTicksAnt, yl:returnLabelsAnt, legend:true,
   s:{"OBAC":[ant_OBAC,ant_OBAC_band],"BAC":[ant_BAC,ant_BAC_band],"SAC":[ant_SAC,ant_SAC_band],"TD3":[ant_TD3,ant_TD3_band]}},
  {title:"HumanoidStandup", ylabel:"Return", xmax:3, ymax:400000, xt:xTicks3M, xl:xLabels3M, yt:returnTicksHum, yl:returnLabelsHum,
   s:{"OBAC":[hum_OBAC,hum_OBAC_band],"TD-MPC2":[hum_TDMPC2,hum_TDMPC2_band],"BAC":[hum_BAC,hum_BAC_band],"SAC":[hum_SAC,hum_SAC_band],"TD3":[hum_TD3,hum_TD3_band]}},
  {title:"DogRun", ylabel:"Return", xmax:4, ymax:1000, xt:xTicks4M, xl:xLabels4M, yt:returnTicks1000, yl:returnLabels1000,
   s:{"OBAC":[dog_OBAC,dog_OBAC_band],"TD-MPC2":[dog_TDMPC2,dog_TDMPC2_band],"BAC":[dog_BAC,dog_BAC_band],"SAC":[dog_SAC,dog_SAC_band],"TD3":[dog_TD3,dog_TD3_band]}},
  {title:"Quadruped Walk", ylabel:"Return", xmax:0.4, ymax:1000, xt:xTicks04M, xl:xLabels04M, yt:returnTicks1000, yl:returnLabels1000,
   s:{"OBAC":[quad_OBAC,quad_OBAC_band],"TD-MPC2":[quad_TDMPC2,quad_TDMPC2_band],"BAC":[quad_BAC,quad_BAC_band],"SAC":[quad_SAC,quad_SAC_band],"TD3":[quad_TD3,quad_TD3_band]}},
  {title:"Assembly", ylabel:"Success Rate", xmax:1, ymax:1.05, xt:xTicks1M, xl:xLabels1M, yt:successTicks, yl:successLabels,
   s:{"OBAC":[asm_OBAC,asm_OBAC_band],"TD-MPC2":[asm_TDMPC2,asm_TDMPC2_band],"BAC":[asm_BAC,asm_BAC_band],"SAC":[asm_SAC,asm_SAC_band]}},
  {title:"Hammer", ylabel:"Success Rate", xmax:1, ymax:1.05, xt:xTicks1M, xl:xLabels1M, yt:successTicks, yl:successLabels,
   s:{"OBAC":[ham_OBAC,ham_OBAC_band],"TD-MPC2":[ham_TDMPC2,ham_TDMPC2_band],"BAC":[ham_BAC,ham_BAC_band],"SAC":[ham_SAC,ham_SAC_band],"TD3":[ham_TD3,ham_TD3_band]}},
  {title:"Baoding4th", ylabel:"Success Rate", xmax:8, ymax:1.05, xt:xTicks8M, xl:xLabels8M, yt:successTicks, yl:successLabels,
   s:{"OBAC":[bao_OBAC,bao_OBAC_band],"TD-MPC2":[bao_TDMPC2,bao_TDMPC2_band],"BAC":[bao_BAC,null],"SAC":[bao_SAC,null],"TD3":[bao_TD3,null]}},
  {title:"Door", ylabel:"Success Rate", xmax:1, ymax:1.05, xt:xTicks1M, xl:xLabels1M, yt:successTicks, yl:successLabels,
   s:{"OBAC":[door_OBAC,door_OBAC_band],"TD-MPC2":[door_TDMPC2,door_TDMPC2_band],"BAC":[door_BAC,door_BAC_band],"SAC":[door_SAC,door_SAC_band],"TD3":[door_TD3,door_TD3_band]}},
  {title:"PickCube", ylabel:"Success Rate", xmax:1, ymax:1.05, xt:xTicks1M, xl:xLabels1M, yt:successTicks, yl:successLabels,
   s:{"OBAC":[pick_OBAC,pick_OBAC_band],"TD-MPC2":[pick_TDMPC2,pick_TDMPC2_band],"BAC":[pick_BAC,pick_BAC_band],"SAC":[pick_SAC,pick_SAC_band],"TD3":[pick_TD3,pick_TD3_band]}},
  {title:"TurnFaucet", ylabel:"Success Rate", xmax:0.5, ymax:1.05, xt:xTicks05M, xl:xLabels05M, yt:successTicks, yl:successLabels,
   s:{"OBAC":[tf_OBAC,tf_OBAC_band],"TD-MPC2":[tf_TDMPC2,tf_TDMPC2_band],"BAC":[tf_BAC,tf_BAC_band],"SAC":[tf_SAC,tf_SAC_band],"TD3":[tf_TD3,tf_TD3_band]}},
  {title:"myoHandKeyTurnFixed", ylabel:"Success Rate", xmax:1, ymax:1.05, xt:xTicks1M, xl:xLabels1M, yt:successTicks, yl:successLabels,
   s:{"OBAC":[key_OBAC,key_OBAC_band],"TD-MPC2":[key_TDMPC2,key_TDMPC2_band],"BAC":[key_BAC,key_BAC_band],"SAC":[key_SAC,key_SAC_band],"TD3":[key_TD3,key_TD3_band]}},
  {title:"myoHandReachFixed", ylabel:"Success Rate", xmax:1, ymax:1.05, xt:xTicks1M, xl:xLabels1M, yt:successTicks, yl:successLabels,
   s:{"OBAC":[reach_OBAC,reach_OBAC_band],"TD-MPC2":[reach_TDMPC2,reach_TDMPC2_band],"BAC":[reach_BAC,reach_BAC_band],"SAC":[reach_SAC,reach_SAC_band],"TD3":[reach_TD3,reach_TD3_band]}}
];

// plot rectangles [left, top, right, bottom]
const layout = [
 [120.7,53.3,484.3,354],[645,55,1007.3,354.3],[1145.3,52.7,1509.3,354],[1645,61,2001.7,355.3],
 [125.7,471.7,494,776.7],[627.7,471.7,996.7,776],[1129.3,471.7,1498.7,776],[1631.3,471.7,2000,776],
 [115.3,902.7,484,1207.7],[619.3,894.3,996,1206],[1139.7,902.7,1509,1207.3],[1641.7,902.7,2010.3,1207.3]
];

const svg = d3.select("#chart");
const FONT = '"Liberation Sans", Arial, sans-serif';
const LW = 3.3;

panels.forEach((p,i)=>{
  const [l,t,r,b] = layout[i];
  const w = r-l, h = b-t;
  const g = svg.append("g").attr("transform",`translate(${l},${t})`);
  const x = d3.scaleLinear().domain([0,p.xmax]).range([0,w]);
  const y = d3.scaleLinear().domain([0,p.ymax]).range([h,0]);
  g.append("rect").attr("width",w).attr("height",h).attr("fill","#f1f1f1");
  const cid = "clip"+i;
  g.append("clipPath").attr("id",cid).append("rect").attr("width",w).attr("height",h);
  const plot = g.append("g").attr("clip-path",`url(#${cid})`);
  const area = d3.area().x(d=>x(d[0])).y0(d=>y(d[1])).y1(d=>y(d[2]));
  const line = d3.line().x(d=>x(d[0])).y(d=>y(d[1]));
  methods.forEach((m,k)=>{
    const s = p.s[m]; if(!s || !s[1]) return;
    plot.append("path").datum(s[1]).attr("d",area).attr("fill",colors[k]).attr("fill-opacity",0.2);
  });
  methods.forEach((m,k)=>{
    const s = p.s[m]; if(!s) return;
    plot.append("path").datum(s[0]).attr("d",line).attr("fill","none")
      .attr("stroke",colors[k]).attr("stroke-width",LW).attr("stroke-linejoin","round");
  });
  g.append("rect").attr("width",w).attr("height",h).attr("fill","none")
    .attr("stroke","#3d3d3d").attr("stroke-width",1.3);

  // axes
  const xa = g.append("g").attr("transform",`translate(0,${h})`)
    .call(d3.axisBottom(x).tickValues(p.xt).tickFormat((d,j)=>p.xl[j]).tickSize(0).tickPadding(10));
  const ya = g.append("g")
    .call(d3.axisLeft(y).tickValues(p.yt).tickFormat((d,j)=>p.yl[j]).tickSize(0).tickPadding(12));
  [xa,ya].forEach(a=>{
    a.select(".domain").remove();
    a.attr("font-size",null).attr("font-family",null);
    a.selectAll("text").attr("font-size","23px").attr("font-family",FONT).attr("fill","#262626");
  });
  ya.selectAll("text").each(function(){
    const s = d3.select(this); const txt = s.text();
    if(txt.includes("^")){
      const [a,bb] = txt.split("^");
      s.text(a);
      s.append("tspan").attr("dy","-0.6em").attr("font-size","17px").text(bb);
    }
  });
  let maxW = 0;
  ya.selectAll("text").each(function(){ maxW = Math.max(maxW,this.getBBox().width); });

  // labels
  g.append("text").attr("x",w/2).attr("y",-8).attr("text-anchor","middle")
    .attr("font-size","34px").attr("font-family",FONT).text(p.title);
  g.append("text").attr("x",w/2).attr("y",h+57).attr("text-anchor","middle")
    .attr("font-size","29px").attr("font-family",FONT).text("steps");
  const yl = -(12+maxW+21.5);
  g.append("text").attr("transform",`translate(${yl},${h/2}) rotate(-90)`)
    .attr("text-anchor","middle").attr("dy","0.35em")
    .attr("font-size","29px").attr("font-family",FONT).text(p.ylabel);

  if(p.legend){
    const lg = g.append("g").attr("transform","translate(9.3,8.7)");
    lg.append("rect").attr("width",126).attr("height",117).attr("rx",4)
      .attr("fill","#ffffff").attr("fill-opacity",0.8).attr("stroke","#cccccc").attr("stroke-width",1);
    const items = methods.filter(m=>p.s[m]);
    items.forEach((m,j)=>{
      const k = methods.indexOf(m);
      const yy = 16 + j*27.7;
      lg.append("line").attr("x1",7).attr("x2",48).attr("y1",yy).attr("y2",yy)
        .attr("stroke",colors[k]).attr("stroke-width",LW);
      lg.append("text").attr("x",63).attr("y",yy).attr("dy","0.35em")
        .attr("font-size","19px").attr("font-family",FONT).text(m);
    });
  }
});

// bottom legend
const leg = svg.append("g");
const legY = 1318, handle = 58, pad = 22, colSp = 60;
const entries = [];
methods.forEach((m,k)=>{
  const eg = leg.append("g");
  eg.append("line").attr("x1",0).attr("x2",handle).attr("y1",0).attr("y2",0)
    .attr("stroke",colors[k]).attr("stroke-width",LW);
  const tx = eg.append("text").attr("x",handle+pad).attr("y",0).attr("dy","0.35em")
    .attr("font-size","26px").attr("font-family",FONT).text(m);
  const tw = tx.node().getComputedTextLength();
  entries.push({eg, w: handle+pad+tw});
});
const total = d3.sum(entries,e=>e.w) + colSp*(entries.length-1);
let xs = 1026 - total/2;
entries.forEach(e=>{ e.eg.attr("transform",`translate(${xs},${legY})`); xs += e.w + colSp; });
</script>
</body></html>
